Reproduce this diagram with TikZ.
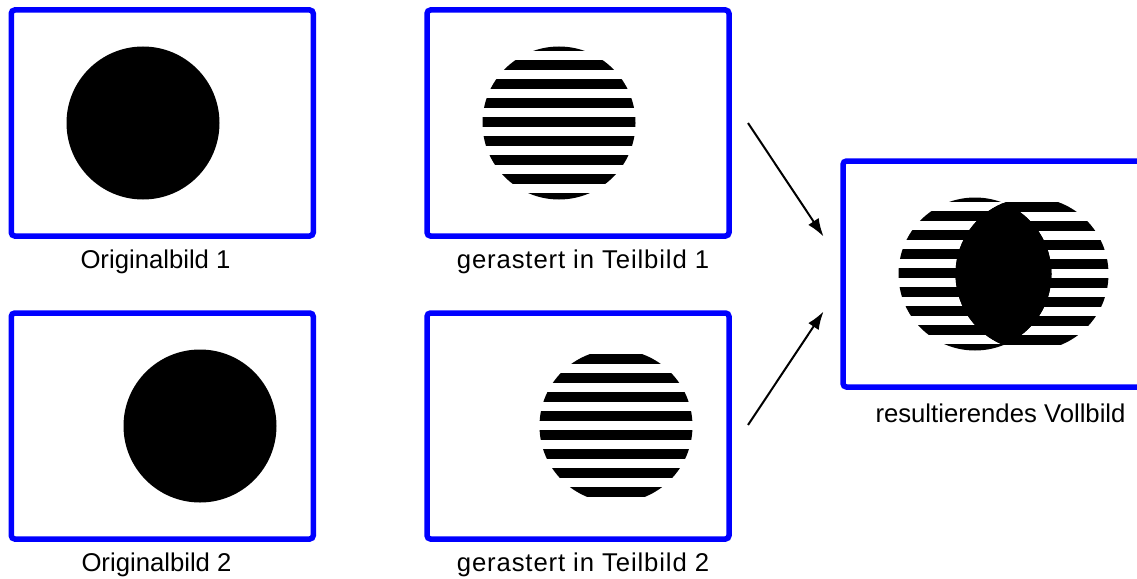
\documentclass[tikz,border=0pt]{standalone}
\usepackage{fontspec}
\setmainfont{Liberation Sans}
\usetikzlibrary{arrows.meta}
\definecolor{frameblue}{RGB}{0,0,255}
\newfontfamily\widesans[LetterSpace=3.4]{Liberation Sans}
\tikzset{
  frame/.style={draw=frameblue, line width=5.5pt, rounded corners=3.5pt,
    minimum width=302pt, minimum height=226pt, inner sep=0pt},
  caption/.style={anchor=base, inner sep=0pt,
    font=\fontsize{25.7}{30}\selectfont},
  widecaption/.style={caption, font=\widesans\fontsize{25.7}{30}\selectfont},
  flow/.style={line width=2pt, -{Latex[length=18pt,width=12.5pt]}}
}
% horizontal raster lines inside a disc: centre, frame top, phase offset
\newcommand{\rasterdisc}[4]{%
  \begin{scope}
    \clip (#1,#2) circle (76.5);
    \foreach \k in {-1,...,13}{
      \fill[black] (#1-80,#3+#4+19*\k) rectangle (#1+80,#3+#4+19*\k+9.5);
    }
  \end{scope}}
\begin{document}
\begin{tikzpicture}[x=1pt,y=-1pt]
\clip (0,0) rectangle (1137,578);
\fill[white] (0,0) rectangle (1137,578);

% source frames
\node[frame] (f1) at (162.25,123) {};
\node[frame] (f2) at (162.25,426) {};
\fill[black] (143,123) circle (76.5);
\fill[black] (200,426) circle (76.5);
\node[caption] (c1) at (155.5,268) {Originalbild 1};
\node[caption] (c2) at (156.5,571) {Originalbild 2};

% rastered sub-frames
\node[frame] (f3) at (578,123) {};
\node[frame] (f4) at (578,426) {};
\rasterdisc{559}{123}{10}{12.3}
\rasterdisc{616}{426}{313}{3.0}
\node[widecaption] (c3) at (583,268) {gerastert in Teilbild 1};
\node[widecaption] (c4) at (583,571) {gerastert in Teilbild 2};

% combined frame
\node[frame] (f5) at (994,274) {};
\rasterdisc{975}{274}{161}{12.3}
\rasterdisc{1032}{274}{161}{3.0}
\begin{scope}
  \clip (975,274) circle (76.5);
  \fill[black] (1032,274) circle (76.5);
\end{scope}
\node[caption] (c5) at (1000.5,422) {resultierendes Vollbild};

% arrows into the combined frame
\coordinate (a1) at (748,123);
\coordinate (b1) at (823.5,236.5);
\coordinate (a2) at (748,425);
\coordinate (b2) at (823.5,311.5);
\draw[flow] (a1) -- (b1);
\draw[flow] (a2) -- (b2);
\end{tikzpicture}
\end{document}
